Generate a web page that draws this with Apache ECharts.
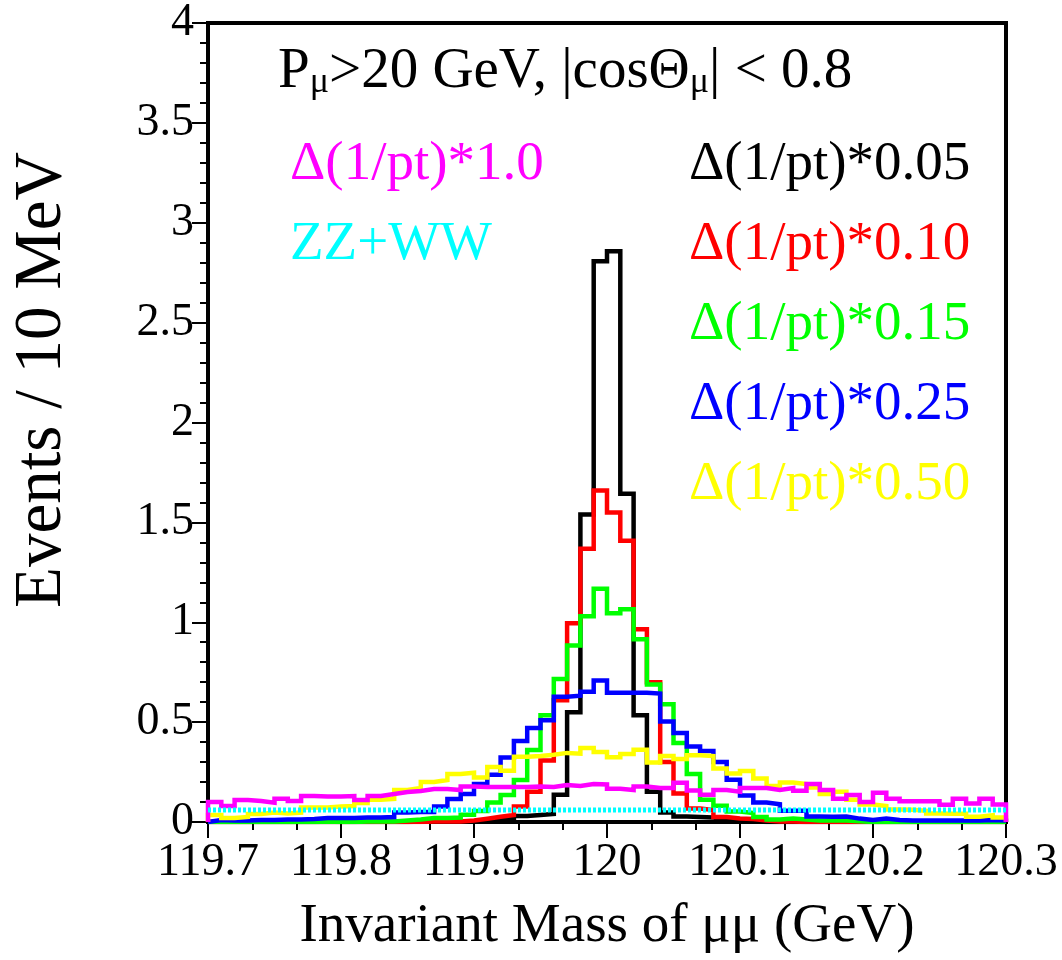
<!DOCTYPE html>
<html>
<head>
<meta charset="utf-8">
<script src="https://cdn.jsdelivr.net/npm/echarts@6/dist/echarts.min.js"></script>
<style>
  html, body { margin: 0; padding: 0; background: #ffffff; }
  #chart { width: 1062px; height: 960px; }
</style>
</head>
<body>
<div id="chart"></div>
<script>
// Di-muon invariant mass spectra, 10 MeV bins from 119.70 to 120.30 GeV,
// for several scalings of the momentum resolution Delta(1/pt).
const massMin = 119.7;
const massMax = 120.3;
const binWidth = 0.01;

// Delta(1/pt)*0.05
const res005 = [
  0, 0, 0, 0, 0, 0, 0, 0, 0, 0,
  0, 0, 0, 0, 0, 0.003, 0.003, 0.003, 0.003, 0.003,
  0.003, 0.007, 0.018, 0.03, 0.035, 0.04, 0.137, 0.55, 1.54, 2.807,
  2.857, 1.643, 0.535, 0.152, 0.048, 0.028, 0.025, 0.022, 0.012, 0.008,
  0.005, 0, 0, 0, 0, 0, 0, 0, 0, 0,
  0, 0, 0, 0, 0, 0, 0, 0, 0, 0
];
// Delta(1/pt)*0.10
const res010 = [
  0, 0, 0, 0, 0, 0, 0, 0, 0, 0,
  0, 0, 0, 0, 0, 0, 0.002, 0.002, 0.003, 0.007,
  0.016, 0.026, 0.035, 0.077, 0.152, 0.308, 0.61, 0.995, 1.368, 1.66,
  1.55, 1.408, 0.965, 0.70, 0.30, 0.143, 0.068, 0.06, 0.025, 0.018,
  0.015, 0.007, 0.003, 0.003, 0, 0, 0, 0, 0, 0,
  0, 0, 0, 0, 0, 0, 0, 0, 0, 0
];
// Delta(1/pt)*0.15
const res015 = [
  0, 0, 0, 0, 0, 0, 0, 0, 0.003, 0,
  0, 0.002, 0.002, 0.003, 0.007, 0.012, 0.02, 0.02, 0.022, 0.036,
  0.055, 0.098, 0.135, 0.21, 0.36, 0.535, 0.716, 0.883, 1.03, 1.168,
  1.045, 1.065, 0.915, 0.688, 0.59, 0.395, 0.24, 0.112, 0.081, 0.053,
  0.045, 0.025, 0.012, 0.018, 0.012, 0.008, 0.008, 0.008, 0.004, 0,
  0, 0, 0, 0, 0, 0, 0, 0, 0, 0
];
// Delta(1/pt)*0.25
const res025 = [
  0.01, 0.007, 0.007, 0.01, 0.01, 0.013, 0.013, 0.015, 0.02, 0.02,
  0.02, 0.022, 0.022, 0.025, 0.047, 0.05, 0.05, 0.077, 0.115, 0.14,
  0.19, 0.237, 0.323, 0.405, 0.47, 0.51, 0.627, 0.632, 0.652, 0.708,
  0.647, 0.647, 0.647, 0.643, 0.503, 0.445, 0.378, 0.355, 0.30, 0.212,
  0.133, 0.098, 0.089, 0.056, 0.056, 0.028, 0.026, 0.027, 0.017, 0.01,
  0.017, 0.01, 0.007, 0.007, 0.007, 0.007, 0.007, 0.007, 0.01, 0.007
];
// Delta(1/pt)*0.50
const res050 = [
  0.035, 0.02, 0.025, 0.04, 0.047, 0.043, 0.047, 0.072, 0.073, 0.077,
  0.08, 0.095, 0.112, 0.116, 0.16, 0.17, 0.20, 0.21, 0.24, 0.247,
  0.223, 0.275, 0.257, 0.327, 0.33, 0.337, 0.346, 0.342, 0.37, 0.35,
  0.324, 0.34, 0.362, 0.298, 0.33, 0.315, 0.334, 0.33, 0.268, 0.243,
  0.255, 0.218, 0.18, 0.198, 0.19, 0.173, 0.14, 0.152, 0.112, 0.087,
  0.08, 0.062, 0.061, 0.056, 0.042, 0.041, 0.041, 0.026, 0.034, 0.023
];
// Delta(1/pt)*1.0
const res100 = [
  0.10, 0.08, 0.11, 0.105, 0.097, 0.117, 0.105, 0.13, 0.128, 0.128,
  0.13, 0.11, 0.13, 0.14, 0.15, 0.155, 0.165, 0.165, 0.16, 0.178,
  0.175, 0.175, 0.175, 0.175, 0.178, 0.175, 0.185, 0.18, 0.19, 0.188,
  0.167, 0.16, 0.178, 0.17, 0.17, 0.196, 0.158, 0.137, 0.16, 0.152,
  0.17, 0.17, 0.16, 0.17, 0.157, 0.19, 0.16, 0.117, 0.135, 0.10,
  0.147, 0.117, 0.104, 0.104, 0.104, 0.086, 0.116, 0.092, 0.116, 0.088
];
// ZZ+WW background
const zzww = [
  0.06, 0.06, 0.06, 0.06, 0.06, 0.06, 0.06, 0.06, 0.06, 0.06,
  0.06, 0.06, 0.06, 0.06, 0.06, 0.06, 0.06, 0.06, 0.06, 0.06,
  0.06, 0.06, 0.06, 0.06, 0.06, 0.06, 0.06, 0.06, 0.06, 0.06,
  0.06, 0.06, 0.06, 0.06, 0.06, 0.06, 0.06, 0.06, 0.06, 0.06,
  0.06, 0.06, 0.06, 0.06, 0.06, 0.06, 0.06, 0.06, 0.06, 0.06,
  0.06, 0.06, 0.06, 0.06, 0.06, 0.06, 0.06, 0.06, 0.06, 0.06
];

const serifFont = '"Liberation Serif", "Times New Roman", serif';

// Histogram outline: corners of every bin, optionally dropped to zero at both ends.
function outline(vals, closed) {
  const pts = [];
  if (closed) pts.push([massMin, 0]);
  vals.forEach((v, i) => {
    const lo = massMin + i * binWidth;
    pts.push([lo, v], [lo + binWidth, v]);
  });
  if (closed) pts.push([massMin + vals.length * binWidth, 0]);
  return pts;
}

function histSeries(name, vals, color, dashed) {
  return {
    name: name,
    type: 'line',
    data: outline(vals, !dashed),
    symbol: 'none',
    showSymbol: false,
    silent: true,
    animation: false,
    clip: true,
    lineStyle: {
      color: color,
      width: dashed ? 5 : 4.5,
      type: dashed ? [3, 2] : 'solid',
      join: 'miter',
      cap: 'butt'
    }
  };
}

function label(text, color, left, top) {
  return {
    text: text,
    left: left,
    top: top,
    padding: 0,
    textStyle: {
      color: color,
      fontFamily: serifFont,
      fontSize: 55,
      fontWeight: 'normal',
      lineHeight: 56
    }
  };
}

const chart = echarts.init(document.getElementById('chart'), null, { renderer: 'canvas' });

chart.setOption({
  backgroundColor: '#ffffff',
  animation: false,
  title: [
    {
      text: 'P{s|μ}>20 GeV, |cosΘ{s|μ}| < 0.8',
      left: 278,
      top: 43,
      padding: 0,
      textStyle: {
        color: '#000',
        fontFamily: serifFont,
        fontSize: 57,
        fontWeight: 'normal',
        lineHeight: 58,
        rich: {
          s: {
            color: '#000',
            fontFamily: serifFont,
            fontSize: 36,
            lineHeight: 12,
            verticalAlign: 'bottom'
          }
        }
      }
    },
    label('Δ(1/pt)*1.0', '#ff00ff', 290, 137),
    label('ZZ+WW', '#00ffff', 290, 217),
    label('Δ(1/pt)*0.05', '#000000', 689, 137),
    label('Δ(1/pt)*0.10', '#ff0000', 689, 217),
    label('Δ(1/pt)*0.15', '#00ff00', 689, 297),
    label('Δ(1/pt)*0.25', '#0000ff', 689, 377),
    label('Δ(1/pt)*0.50', '#ffff00', 689, 457)
  ],
  grid: {
    left: 208,
    right: 56,
    top: 22,
    bottom: 138,
    show: true,
    borderColor: '#000',
    borderWidth: 4,
    backgroundColor: 'transparent'
  },
  xAxis: {
    type: 'value',
    min: massMin,
    max: massMax,
    interval: 0.1,
    name: 'Invariant Mass of μμ (GeV)',
    nameLocation: 'middle',
    nameGap: 77,
    nameTextStyle: {
      color: '#000',
      fontFamily: serifFont,
      fontSize: 55,
      lineHeight: 56
    },
    axisLine: { show: true, onZero: false, lineStyle: { color: '#000', width: 3 } },
    axisTick: { show: true, inside: false, length: 16, lineStyle: { color: '#000', width: 2 } },
    minorTick: { show: true, splitNumber: 3, length: 8, lineStyle: { color: '#000', width: 2 } },
    splitLine: { show: false },
    minorSplitLine: { show: false },
    axisLabel: {
      color: '#000',
      fontFamily: serifFont,
      fontSize: 46,
      margin: 18
    }
  },
  yAxis: {
    type: 'value',
    min: 0,
    max: 4,
    interval: 0.5,
    axisLine: { show: true, lineStyle: { color: '#000', width: 4 } },
    axisTick: { show: true, inside: false, length: 16, lineStyle: { color: '#000', width: 2 } },
    minorTick: { show: true, splitNumber: 5, length: 8, lineStyle: { color: '#000', width: 2 } },
    splitLine: { show: false },
    minorSplitLine: { show: false },
    axisLabel: {
      color: '#000',
      fontFamily: serifFont,
      fontSize: 46,
      margin: 14
    }
  },
  graphic: [
    {
      type: 'text',
      x: 42,
      y: 380,
      rotation: Math.PI / 2,
      silent: true,
      style: {
        text: 'Events / 10 MeV',
        font: '67px "Liberation Serif"',
        fill: '#000',
        align: 'center',
        verticalAlign: 'middle',
        textAlign: 'center',
        textVerticalAlign: 'middle'
      }
    }
  ],
  series: [
    histSeries('Δ(1/pt)*0.05', res005, '#000000', false),
    histSeries('Δ(1/pt)*0.10', res010, '#ff0000', false),
    histSeries('Δ(1/pt)*0.15', res015, '#00ff00', false),
    histSeries('Δ(1/pt)*0.25', res025, '#0000ff', false),
    histSeries('Δ(1/pt)*0.50', res050, '#ffff00', false),
    histSeries('Δ(1/pt)*1.0', res100, '#ff00ff', false),
    histSeries('ZZ+WW', zzww, '#00ffff', true)
  ]
});
</script>
</body>
</html>
